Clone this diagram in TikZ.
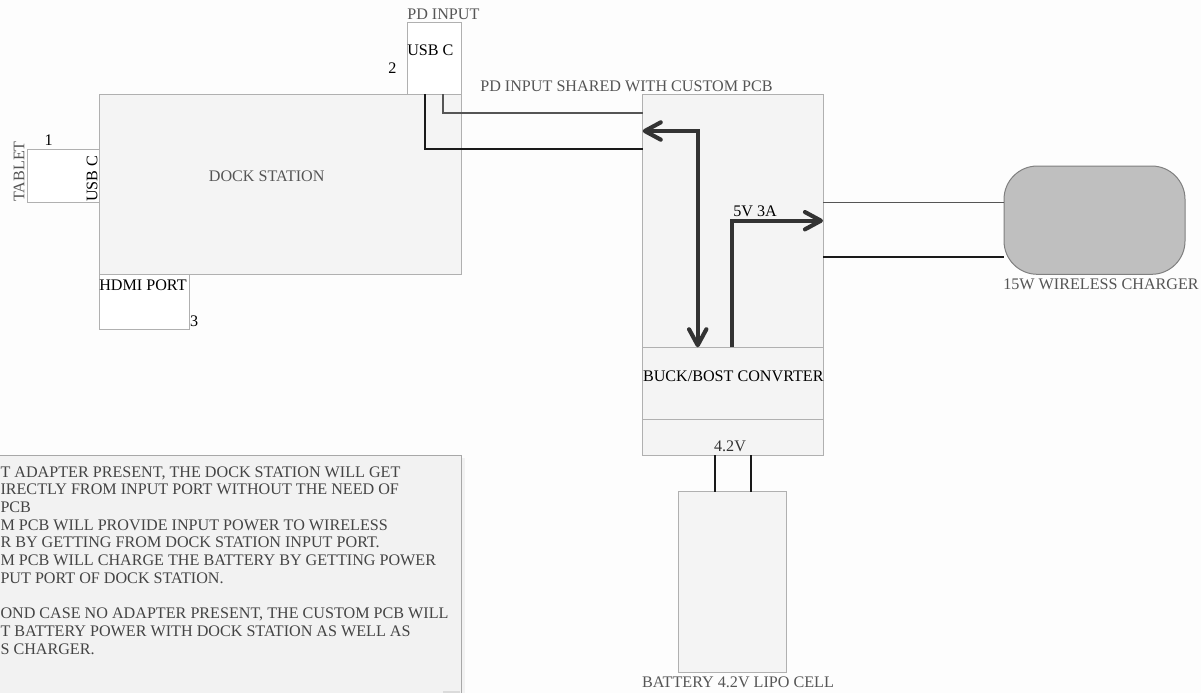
\documentclass[tikz,border=0pt]{standalone}
\usepackage{fontspec}
\setmainfont{Liberation Serif}
\usetikzlibrary{arrows.meta,fit,calc}
\definecolor{bg}{HTML}{FDFDFD}
\definecolor{boxfill}{HTML}{F4F4F4}
\definecolor{boxline}{HTML}{B0B0B0}
\definecolor{lblc}{HTML}{555555}
\definecolor{notefill}{HTML}{F2F2F2}
\definecolor{noteline}{HTML}{A8A8A8}
\definecolor{notetext}{HTML}{444444}
\definecolor{arr}{HTML}{333333}
\definecolor{chfill}{HTML}{BFBFBF}
\definecolor{chline}{HTML}{808080}
\definecolor{wiregrey}{HTML}{555555}
\definecolor{wireblack}{HTML}{1A1A1A}
\begin{document}
\begin{tikzpicture}[x=0.75pt,y=-0.75pt,
  font=\fontsize{12.1}{13.3}\selectfont,
  every node/.style={inner sep=0pt, outer sep=0pt},
  box/.style={draw=boxline, line width=0.75pt, inner sep=0pt, outer sep=0pt},
  lbl/.style={text=lblc},
  notetxt/.style={text=notetext, anchor=base west},
  wireg/.style={draw=wiregrey, line width=1.2pt},
  wirek/.style={draw=wireblack, line width=1.5pt},
  barb/.tip={Straight Barb[length=12pt,width=13pt,round]},
  bigarrow/.style={draw=arr, line width=3.1pt, line join=miter}]
\fill[bg] (0,0) rectangle (1201,693);
\useasboundingbox (0,0) rectangle (1201,693);

% boxes
\node[box, fill=white, fit={(27.3,149.3)(99.3,202.3)}] (tablet) {};
\node[box, fill=boxfill, fit={(99.3,94.3)(461.7,274.3)}] (dock) {};
\node[box, fill=white, fit={(407.3,22.7)(461.3,94.3)}] (pd) {};
\node[box, fill=white, fit={(99.3,274.3)(189.3,329.3)}] (hdmi) {};
\node[box, fill=boxfill, fit={(642.7,94.3)(823,455)}] (pcb) {};
\node[box, fill=boxfill, fit={(678.7,491.7)(786.3,672.3)}] (bat) {};
\node[draw=chline, fill=chfill, line width=0.75pt, rounded corners=25pt,
      fit={(1004,166)(1185,274.3)}] (chg) {};

% converter section dividers
\coordinate (d1) at (0,347.3);
\coordinate (d2) at (0,419.3);
\draw[boxline, line width=0.75pt] (pcb.west |- d1) -- (pcb.east |- d1);
\draw[boxline, line width=0.75pt] (pcb.west |- d2) -- (pcb.east |- d2);

% note box
\node[fill=notefill, fit={(0,455.3)(461.7,693)}] (note) {};
\fill[black!5] (462.2,458) rectangle (465,693);
\fill[black!14] (443,690.7) rectangle (460,693);
\draw[noteline, line width=0.75pt] (note.north west) -- (note.north east) -- (note.south east);

% wires
\coordinate (w1) at (443,112.7);
\coordinate (w2) at (425,149.3);
\draw[wireg] (pd.south -| w1) |- (w1 -| pcb.west);
\draw[wirek] (pd.south -| w2) |- (w2 -| pcb.west);
\coordinate (w3) at (0,202.3);
\coordinate (w4) at (0,256.7);
\draw[wireg] (pcb.east |- w3) -- (chg.west |- w3);
\draw[wirek] (pcb.east |- w4) -- (chg.west |- w4);
\coordinate (b1) at (714.7,0);
\coordinate (b2) at (750.7,0);
\draw[wirek] (pcb.south -| b1) -- (bat.north -| b1);
\draw[wirek] (pcb.south -| b2) -- (bat.north -| b2);

% thick arrows
\coordinate (a1) at (697.7,131);
\coordinate (a2) at (732.3,220.7);
\draw[bigarrow, barb-barb] (pcb.west |- a1) -| (a1 |- d1);
\draw[bigarrow, -barb] (a2 |- d1) |- (pcb.east |- a2);

% labels
\node[lbl, anchor=base west] (pdlbl) at (407.3,19) {PD INPUT};
\node[anchor=base west] (pdusb) at (407.3,55.7) {USB C};
\node[anchor=base] (n2) at (392.3,73.3) {2};
\node[anchor=base] (n1) at (48.7,145.7) {1};
\node[lbl, rotate=90, anchor=base west] (tablbl) at (24.3,201.7) {TABLET};
\node[rotate=90, anchor=base west] (tabusb) at (97.3,201.7) {USB C};
\node[lbl, anchor=base] (docklbl) at (266.7,181.7) {DOCK STATION};
\node[anchor=base west] (hdmilbl) at (99.3,290) {HDMI PORT};
\node[anchor=base west] (n3) at (190,326) {3};
\node[lbl, anchor=base] (sharedlbl) at (626.5,91.7) {PD INPUT SHARED WITH CUSTOM PCB};
\node[anchor=base west] (vlbl) at (733.3,216.7) {5V 3A};
\node[anchor=base west] (bucklbl) at (643,381) {BUCK/BOST CONVRTER};
\node[text=arr, anchor=base] (v42) at (730,451.7) {4.2V};
\node[lbl, anchor=base] (chglbl) at (1101,289.3) {15W WIRELESS CHARGER};
\node[lbl, anchor=base] (batlbl) at (738,687.3) {BATTERY 4.2V LIPO CELL};

% note text
\node[notetxt] (t1) at (0.5,477) {T ADAPTER PRESENT, THE DOCK STATION WILL GET};
\node[notetxt] (t2) at (0.5,494.7) {IRECTLY FROM INPUT PORT WITHOUT THE NEED OF};
\node[notetxt] (t3) at (0.5,512.4) {PCB};
\node[notetxt] (t4) at (0.5,530.1) {M PCB WILL PROVIDE INPUT POWER TO WIRELESS};
\node[notetxt] (t5) at (0.5,547.8) {R BY GETTING FROM DOCK STATION INPUT PORT.};
\node[notetxt] (t6) at (0.5,565.5) {M PCB WILL CHARGE THE BATTERY BY GETTING POWER};
\node[notetxt] (t7) at (0.5,583.2) {PUT PORT OF DOCK STATION.};
\node[notetxt] (t8) at (0.5,618.6) {OND CASE NO ADAPTER PRESENT, THE CUSTOM PCB WILL};
\node[notetxt] (t9) at (0.5,636.3) {T BATTERY POWER WITH DOCK STATION AS WELL AS};
\node[notetxt] (t10) at (0.5,654) {S CHARGER.};
\end{tikzpicture}
\end{document}
